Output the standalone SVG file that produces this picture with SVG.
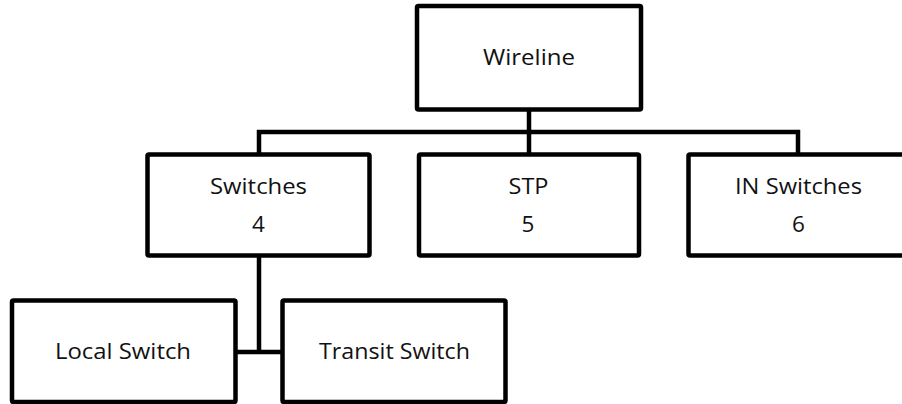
<svg xmlns="http://www.w3.org/2000/svg" width="902" height="404" viewBox="0 0 902 404">
<style>
.box{fill:#fff;stroke:#000;stroke-width:4.5;stroke-linejoin:miter}
.con{fill:none;stroke:#000;stroke-width:4.5;stroke-linejoin:miter;stroke-linecap:butt}
text{font-family:"Open Sans","Liberation Sans",sans-serif;font-size:22.5px;fill:#111;text-anchor:middle}
</style>
<rect width="902" height="404" fill="#fff"/>
<g id="connectors">
<path class="con" d="M529 109.5V154.5"/>
<path class="con" d="M259 154.5V132H798V154.5"/>
<path class="con" d="M259 255.5V352M235.5 352H282.5"/>
</g>
<g id="wireline">
<rect class="box" x="417" y="6" width="224" height="103.5" rx="1.5"/>
<text x="529" y="65" textLength="92" lengthAdjust="spacingAndGlyphs">Wireline</text>
</g>
<g id="switches">
<rect class="box" x="147.5" y="154.5" width="222" height="101" rx="1.5"/>
<text x="258.5" y="194" textLength="97" lengthAdjust="spacingAndGlyphs">Switches</text>
<text x="258.5" y="232">4</text>
</g>
<g id="stp">
<rect class="box" x="419" y="154.5" width="220" height="101" rx="1.5"/>
<text x="528.5" y="194" textLength="40" lengthAdjust="spacingAndGlyphs">STP</text>
<text x="528" y="232">5</text>
</g>
<g id="in-switches">
<rect class="box" x="688.5" y="154.5" width="222" height="101" rx="1.5"/>
<text x="798.5" y="194" textLength="127" lengthAdjust="spacingAndGlyphs">IN Switches</text>
<text x="798.5" y="232">6</text>
</g>
<g id="local-switch">
<rect class="box" x="12" y="300.5" width="223.5" height="101.5" rx="1.5"/>
<text x="123" y="359" textLength="136" lengthAdjust="spacingAndGlyphs">Local Switch</text>
</g>
<g id="transit-switch">
<rect class="box" x="282.5" y="300.5" width="223" height="101.5" rx="1.5"/>
<text x="394.5" y="358.5" textLength="151" lengthAdjust="spacingAndGlyphs">Transit Switch</text>
</g>
</svg>
